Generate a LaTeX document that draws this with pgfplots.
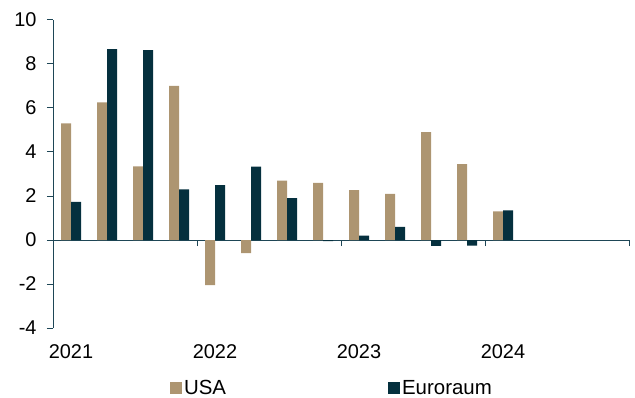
\documentclass[border=0pt]{standalone}
\usepackage{pgfplots}
\pgfplotsset{compat=1.18}
\usepackage{fontspec}
\setmainfont{Liberation Sans}

\definecolor{usatan}{HTML}{AD9571}
\definecolor{eurodark}{HTML}{05303E}
\definecolor{axisline}{HTML}{1E4656}

\begin{document}
\begin{tikzpicture}
\path[use as bounding box] (-53bp,-70bp) rectangle (582bp,328bp);
\begin{axis}[
  scale only axis,
  width=576bp, height=308bp,
  xmin=-0.5, xmax=15.5,
  ymin=-4, ymax=10,
  axis y line*=left,
  axis x line*=middle,
  axis line style={axisline, line width=1bp},
  tick style={axisline, line width=1bp},
  tick align=outside,
  major tick length=6bp,
  ytick={-4,-2,0,2,4,6,8,10},
  yticklabel style={xshift=-7bp},
  % year boundaries carry the tick marks, the labels sit on the first quarter
  xtick={3.5,7.5,11.5,15.5},
  xticklabels={},
  extra x ticks={0,4,8,12},
  extra x tick labels={2021,2022,2023,2024},
  extra x tick style={major tick length=0bp},
  xticklabel style={yshift=-101bp},
  /pgf/number format/assume math mode=true,
  tick label style={font=\fontsize{20}{24}\selectfont, text=black},
  ybar=0pt,
  bar width=10bp,
  legend columns=2,
  legend image code/.code={\fill[#1] (0bp,-6bp) rectangle (12bp,6bp);},
  legend style={
    at={(rel axis cs:0.203,-0.195)}, anchor=west,
    draw=none, fill=none, inner sep=0pt,
    font=\fontsize{20.5}{24}\selectfont,
    /tikz/every even column/.append style={column sep=160bp},
    nodes={inner sep=2bp},
  },
]
% quarterly growth, annualised, in percent
\addplot[fill=usatan, draw=none] coordinates {
  (0,5.3) (1,6.25) (2,3.35) (3,7.0) (4,-2.05) (5,-0.6) (6,2.7)
  (7,2.6) (8,2.27) (9,2.1) (10,4.9) (11,3.45) (12,1.3)
};
\addplot[fill=eurodark, draw=none] coordinates {
  (0,1.73) (1,8.68) (2,8.63) (3,2.3) (4,2.5) (5,3.33) (6,1.9)
  (7,-0.05) (8,0.2) (9,0.6) (10,-0.27) (11,-0.26) (12,1.35)
};
\legend{USA,Euroraum}
\end{axis}
\end{tikzpicture}
\end{document}
